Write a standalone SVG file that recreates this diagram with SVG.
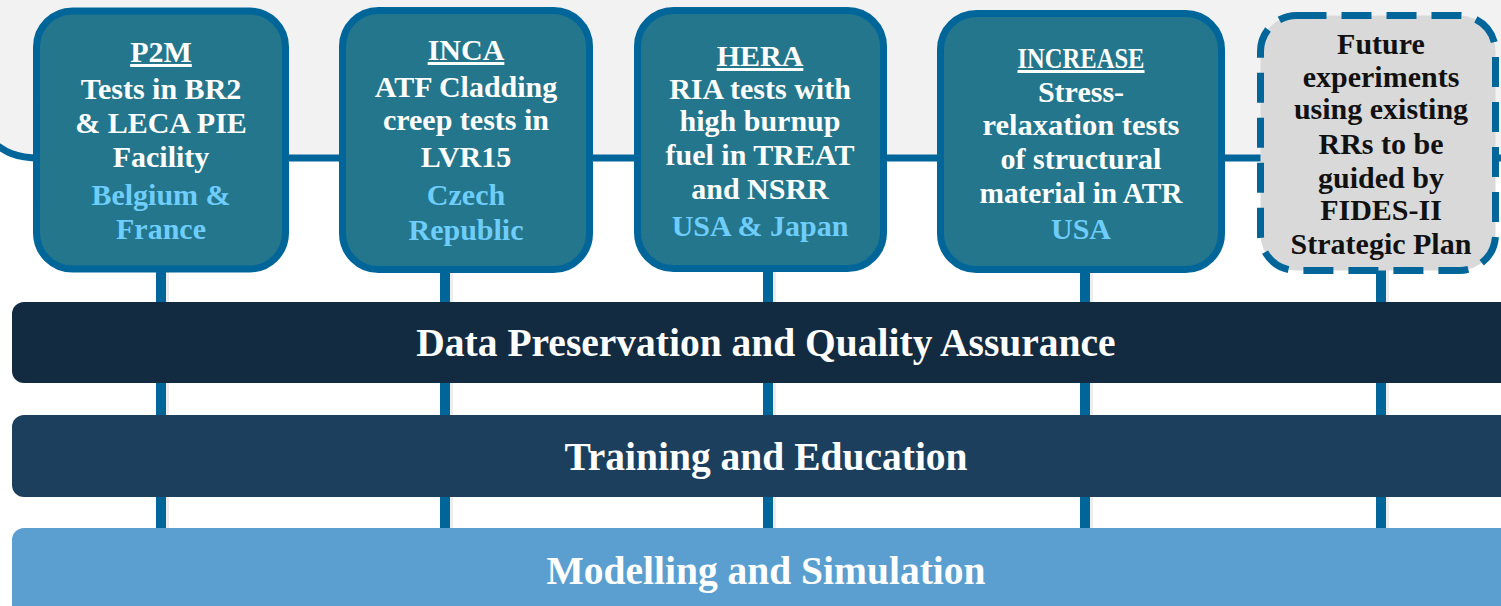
<svg xmlns="http://www.w3.org/2000/svg" width="1501" height="606" viewBox="0 0 1501 606">
  <defs>
    <style>
      .box { fill: #23768b; stroke: #00669a; stroke-width: 7; }
      .future { fill: #d9d9d9; stroke: #00669a; stroke-width: 7; stroke-dasharray: 30 15; }
      .t { font-family: "Liberation Serif", "Times New Roman", serif; font-weight: bold; font-size: 30px; text-anchor: middle; }
      .w { fill: #ffffff; }
      .c { fill: #6fcdfc; }
      .k { fill: #111111; }
      .u { text-decoration: underline; }
      .bar { font-family: "Liberation Serif", "Times New Roman", serif; font-weight: bold; font-size: 39.5px; fill: #ffffff; text-anchor: middle; }
      .vline { stroke: #00669a; stroke-width: 10; }
      .vshadow { stroke: #000000; stroke-opacity: 0.07; stroke-width: 3; }
    </style>
  </defs>

  <rect x="0" y="0" width="1501" height="606" fill="#ffffff"/>

  <!-- shaded band behind the experiment boxes, edged by the timeline -->
  <path d="M -10,0 L 1501,0 L 1501,158 L 40,158 C 15,158 5,152 -10,140 Z" fill="#f2f2f2"/>

  <g id="connectors">
    <path d="M -10,140 C 5,152 15,158 40,158 L 1501,158" fill="none" stroke="#00669a" stroke-width="7"/>
    <line class="vshadow" x1="167.5" y1="270" x2="167.5" y2="528"/>
    <line class="vshadow" x1="451.5" y1="270" x2="451.5" y2="528"/>
    <line class="vshadow" x1="774.5" y1="270" x2="774.5" y2="528"/>
    <line class="vshadow" x1="1091.5" y1="270" x2="1091.5" y2="528"/>
    <line class="vshadow" x1="1387.5" y1="270" x2="1387.5" y2="528"/>
    <line class="vline" x1="161" y1="265" x2="161" y2="530"/>
    <line class="vline" x1="445" y1="265" x2="445" y2="530"/>
    <line class="vline" x1="768" y1="265" x2="768" y2="530"/>
    <line class="vline" x1="1085" y1="265" x2="1085" y2="530"/>
    <line class="vline" x1="1381" y1="265" x2="1381" y2="530"/>
  </g>

  <g id="bar-data">
    <rect x="12" y="302" width="1510" height="81" rx="12" fill="#132b40"/>
    <text class="bar" x="766" y="356">Data Preservation and Quality Assurance</text>
  </g>
  <g id="bar-training">
    <rect x="12" y="415" width="1510" height="82" rx="12" fill="#1b3f5c"/>
    <text class="bar" x="766" y="470">Training and Education</text>
  </g>
  <g id="bar-modelling">
    <rect x="12" y="528" width="1510" height="100" rx="12" fill="#5b9fd1"/>
    <text class="bar" x="766" y="584">Modelling and Simulation</text>
  </g>

  <g id="p2m">
    <rect class="box" x="36.5" y="11" width="249" height="258" rx="36"/>
    <text class="t w u" x="161" y="62">P2M</text>
    <text class="t w" x="161" y="99">Tests in BR2</text>
    <text class="t w" x="161" y="133">&amp; LECA PIE</text>
    <text class="t w" x="161" y="167">Facility</text>
    <text class="t c" x="161" y="205">Belgium &amp;</text>
    <text class="t c" x="161" y="239">France</text>
  </g>

  <g id="inca">
    <rect class="box" x="342.5" y="10.5" width="247" height="259" rx="36"/>
    <text class="t w u" x="466" y="60">INCA</text>
    <text class="t w" x="466" y="97">ATF Cladding</text>
    <text class="t w" x="466" y="130">creep tests in</text>
    <text class="t w" x="466" y="167">LVR15</text>
    <text class="t c" x="466" y="205">Czech</text>
    <text class="t c" x="466" y="240">Republic</text>
  </g>

  <g id="hera">
    <rect class="box" x="637.5" y="10.5" width="246" height="258" rx="36"/>
    <text class="t w u" x="760" y="66">HERA</text>
    <text class="t w" x="760" y="99">RIA tests with</text>
    <text class="t w" x="760" y="131">high burnup</text>
    <text class="t w" x="760" y="165">fuel in TREAT</text>
    <text class="t w" x="760" y="199">and NSRR</text>
    <text class="t c" x="760" y="236">USA &amp; Japan</text>
  </g>

  <g id="increase">
    <rect class="box" x="940.5" y="13.5" width="281" height="256" rx="36"/>
    <text class="t w u" x="1081" y="68" textLength="127" lengthAdjust="spacingAndGlyphs">INCREASE</text>
    <text class="t w" x="1081" y="102">Stress-</text>
    <text class="t w" x="1081" y="135" textLength="197" lengthAdjust="spacingAndGlyphs">relaxation tests</text>
    <text class="t w" x="1081" y="169">of structural</text>
    <text class="t w" x="1081" y="203" textLength="203" lengthAdjust="spacingAndGlyphs">material in ATR</text>
    <text class="t c" x="1081" y="239">USA</text>
  </g>

  <g id="future">
    <rect class="future" x="1260.5" y="15.5" width="235" height="255" rx="36"/>
    <text class="t k" x="1381" y="54">Future</text>
    <text class="t k" x="1381" y="87">experiments</text>
    <text class="t k" x="1381" y="119">using existing</text>
    <text class="t k" x="1381" y="154">RRs to be</text>
    <text class="t k" x="1381" y="188">guided by</text>
    <text class="t k" x="1381" y="220">FIDES-II</text>
    <text class="t k" x="1381" y="254">Strategic Plan</text>
  </g>
</svg>
